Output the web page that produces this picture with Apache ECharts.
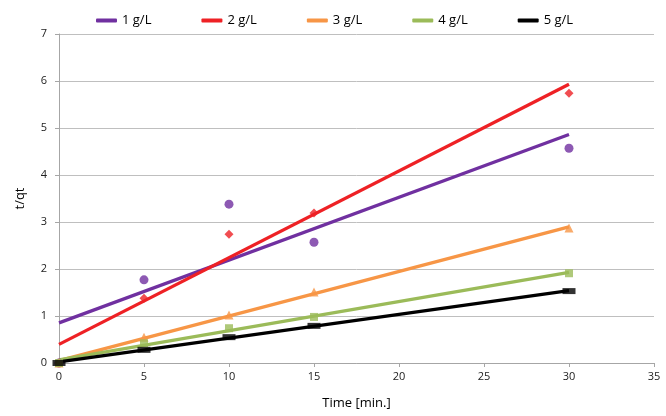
<!DOCTYPE html>
<html><head><meta charset="utf-8">
<script src="https://cdn.jsdelivr.net/npm/echarts@6/dist/echarts.min.js"></script>
<style>html,body{margin:0;padding:0;background:#fff}#c{width:666px;height:416px}</style>
</head><body><div id="c"></div>
<script>
const times = [0, 5, 10, 15, 30];
const seriesNames = ['1 g/L', '2 g/L', '3 g/L', '4 g/L', '5 g/L'];
const conc1 = [0, 1.77, 3.38, 2.57, 4.57];
const conc2 = [0, 1.38, 2.74, 3.19, 5.74];
const conc3 = [0, 0.55, 1.02, 1.51, 2.87];
const conc4 = [0, 0.42, 0.74, 0.98, 1.91];
const conc5 = [0, 0.28, 0.55, 0.79, 1.53];
const xTicks = [0, 5, 10, 15, 20, 25, 30, 35];
const yTicks = [0, 1, 2, 3, 4, 5, 6, 7];

const colors = ['#7030a0', '#ee2125', '#f79646', '#9bbb59', '#000000'];
const symbols = ['circle', 'diamond', 'triangle', 'rect', 'rect'];
const symbolSizes = [9, 9, 9, 8, [13, 6]];
const allData = [conc1, conc2, conc3, conc4, conc5];

function fit(xs, ys) {
  const n = xs.length;
  const mx = xs.reduce((a, b) => a + b, 0) / n;
  const my = ys.reduce((a, b) => a + b, 0) / n;
  let sxy = 0, sxx = 0;
  for (let i = 0; i < n; i++) { sxy += (xs[i] - mx) * (ys[i] - my); sxx += (xs[i] - mx) ** 2; }
  const b = sxy / sxx, a = my - b * mx;
  const x0 = Math.min(...xs), x1 = Math.max(...xs);
  return [[x0, a + b * x0], [x1, a + b * x1]];
}

const font = 'Open Sans';
const series = [];
allData.forEach((ys, i) => {
  series.push({
    name: seriesNames[i] + ' data', type: 'scatter',
    data: times.map((t, j) => [t, ys[j]]),
    symbol: symbols[i], symbolSize: symbolSizes[i],
    itemStyle: { color: colors[i] }, z: 3, silent: true
  });
});
allData.forEach((ys, i) => {
  series.push({
    name: seriesNames[i], type: 'line',
    data: fit(times, ys), showSymbol: false, symbol: 'none',
    lineStyle: { color: colors[i], width: 3.3 }, itemStyle: { color: colors[i] },
    z: 2, silent: true
  });
});

const chart = echarts.init(document.getElementById('c'), null, { renderer: 'canvas' });
chart.setOption({
  animation: false,
  textStyle: { fontFamily: font },
  legend: {
    data: seriesNames, top: 9, left: 91, itemGap: 50,
    icon: 'roundRect', itemWidth: 21, itemHeight: 4,
    textStyle: { fontSize: 13, color: '#000', fontFamily: font }
  },
  grid: { left: 59, right: 12, top: 34, bottom: 53 },
  xAxis: {
    type: 'value', min: 0, max: 35, interval: 5,
    name: 'Time [min.]', nameLocation: 'middle', nameGap: 34,
    nameTextStyle: { fontSize: 13, color: '#000', fontFamily: font },
    axisLine: { lineStyle: { color: '#a6a6a6' } },
    axisTick: { show: true, length: 4, lineStyle: { color: '#a6a6a6' } },
    axisLabel: { fontSize: 11, color: '#222', margin: 8,
      formatter: v => xTicks.includes(v) ? String(v) : '' },
    splitLine: { show: false }
  },
  yAxis: {
    type: 'value', min: 0, max: 7, interval: 1,
    name: 't/qt', nameLocation: 'middle', nameGap: 32, nameRotate: 90,
    nameTextStyle: { fontSize: 13, color: '#000', fontFamily: font },
    axisLine: { show: true, lineStyle: { color: '#a6a6a6' } },
    axisTick: { show: true, length: 4, lineStyle: { color: '#a6a6a6' } },
    axisLabel: { fontSize: 11, color: '#222', margin: 12,
      formatter: v => yTicks.includes(v) ? String(v) : '' },
    splitLine: { show: true, lineStyle: { color: '#bfbfbf' } }
  },
  series: series
});
</script></body></html>
